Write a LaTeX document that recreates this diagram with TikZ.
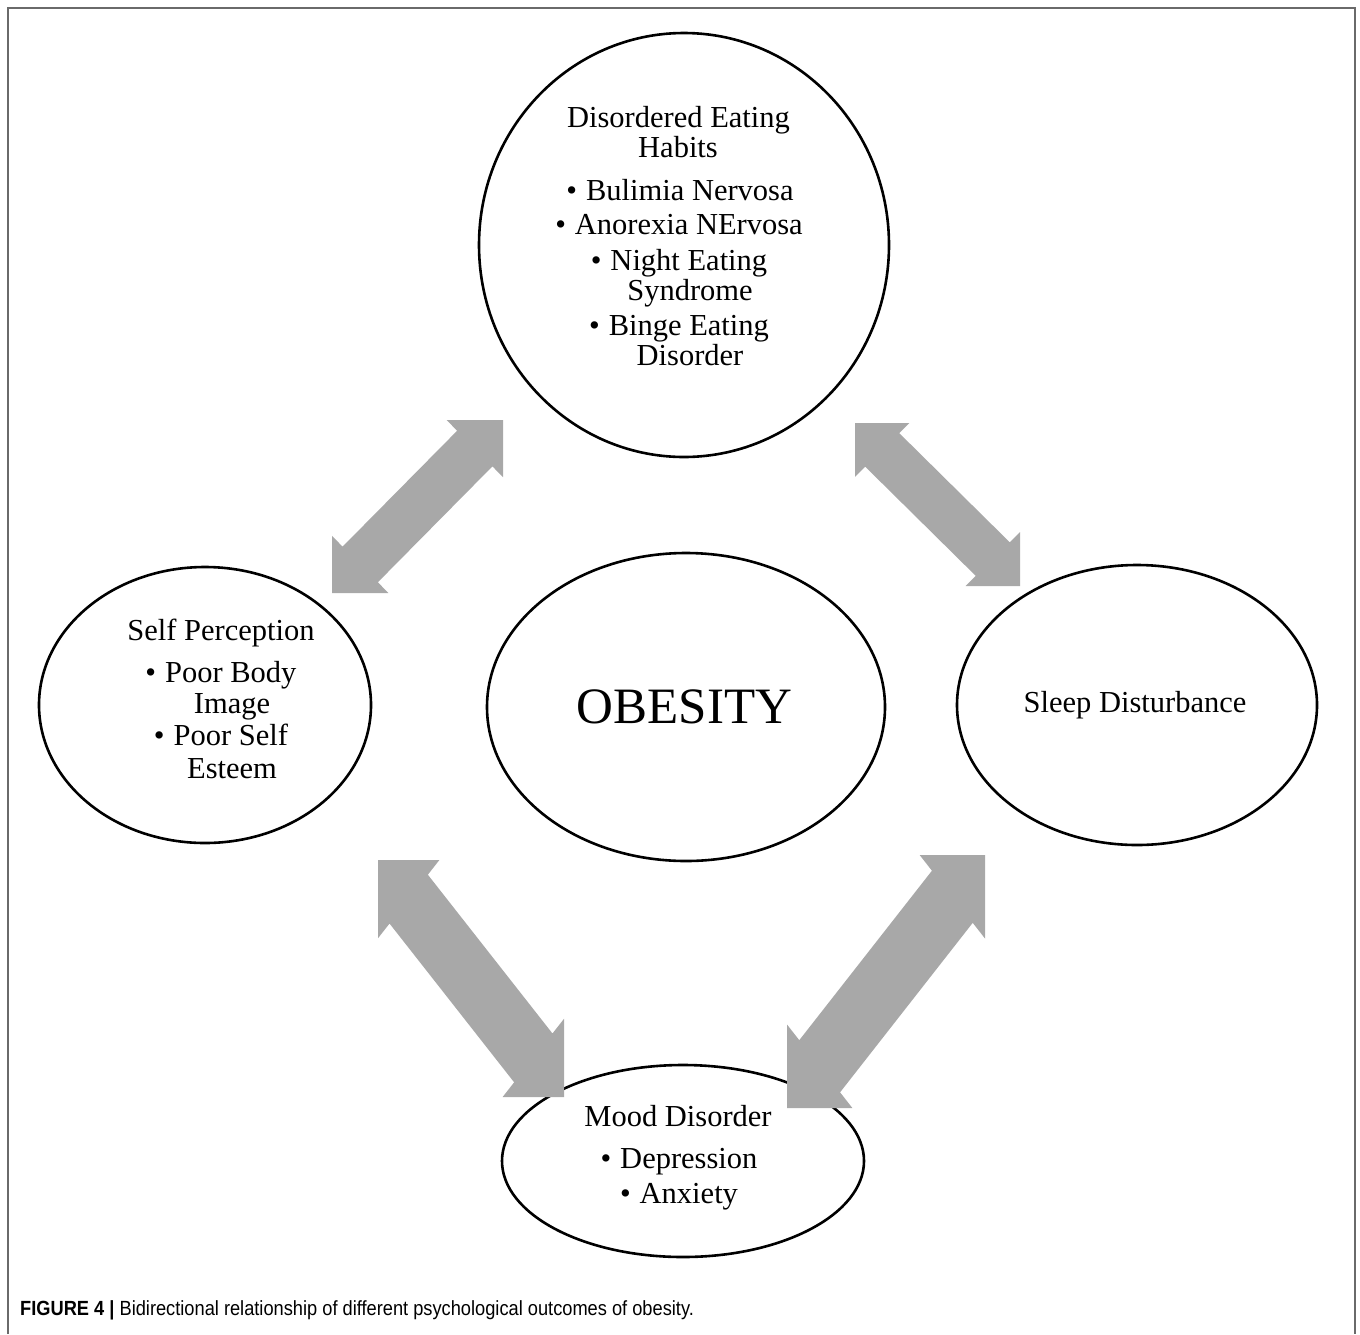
\documentclass[tikz,border=0pt]{standalone}
\usepackage{graphicx}
\usepackage{fontspec}
\setmainfont{Liberation Serif}
\newfontfamily\capfont{Liberation Sans}
\usetikzlibrary{shapes.geometric}
\definecolor{arrgray}{HTML}{A8A8A8}
\definecolor{framegray}{HTML}{6A6A6A}
\tikzset{
  ell/.style={draw, line width=2.6pt, ellipse, inner sep=0pt},
  body/.style={font=\fontsize{30.5}{33}\selectfont, inner sep=0pt, anchor=base},
  big/.style={font=\fontsize{51}{55}\selectfont, inner sep=0pt, anchor=base},
  blk/.style={fill=arrgray},
}
\newcommand\bul{\textbullet\hspace{9pt}}
% NE double arrow in box (x0,y0)-(x1,y1), y down
\newcommand\arrNE[4]{%
  \begin{scope}[shift={(#1,#2)}, xscale=#3-#1, yscale=#4-#2]
    \fill[blk] (1,0) -- (1,0.33) -- (0.938,0.268) -- (0.268,0.938) -- (0.33,1) -- (0,1)
      -- (0,0.67) -- (0.062,0.732) -- (0.732,0.062) -- (0.67,0) -- cycle;
  \end{scope}}
\newcommand\arrNW[4]{%
  \begin{scope}[shift={(#1,#2)}, xscale=#3-#1, yscale=#4-#2]
    \fill[blk] (0,0) -- (0,0.33) -- (0.062,0.268) -- (0.732,0.938) -- (0.67,1) -- (1,1)
      -- (1,0.67) -- (0.938,0.732) -- (0.268,0.062) -- (0.33,0) -- cycle;
  \end{scope}}
\begin{document}
\begin{tikzpicture}[x=1pt, y=-1pt]
\useasboundingbox (0,0) rectangle (1360,1334);
\fill[white] (0,0) rectangle (1360,1334);
\draw[framegray, line width=2pt] (7.5,1334) -- (7.5,8) -- (1355,8) -- (1355,1334);

% ellipses
\node[ell, minimum width=410pt, minimum height=424pt] (deh) at (684,245) {};
\node[ell, minimum width=332pt, minimum height=276pt] (sp) at (205,705) {};
\node[ell, minimum width=398pt, minimum height=308pt] (ob) at (686,707) {};
\node[ell, minimum width=360pt, minimum height=280pt] (sd) at (1137,705) {};
\node[ell, minimum width=362pt, minimum height=192pt] (md) at (683,1161) {};

% texts
\node[body] (deh1) at (678.5,127) {Disordered Eating};
\node[body] (deh2) at (678,157) {Habits};
\node[body] (deh3) at (680,200) {\bul Bulimia Nervosa};
\node[body] (deh4) at (679,234) {\bul Anorexia NErvosa};
\node[body] (deh5) at (679,270) {\bul Night Eating};
\node[body] (deh6) at (690,300) {Syndrome};
\node[body] (deh7) at (679,335) {\bul Binge Eating};
\node[body] (deh8) at (690,365) {Disorder};

\node[body] (sp1) at (221,640) {Self Perception};
\node[body] (sp2) at (221,682) {\bul Poor Body};
\node[body] (sp3) at (232,713) {Image};
\node[body] (sp4) at (221,745) {\bul Poor Self};
\node[body] (sp5) at (232,778) {Esteem};

\node[big] (ob1) at (684.5,723) {OBESITY};

\node[body] (sd1) at (1135,712) {Sleep Disturbance};

\node[body] (md1) at (678,1126) {Mood Disorder};
\node[body] (md2) at (679,1168) {\bul Depression};
\node[body] (md3) at (679,1203) {\bul Anxiety};

% block double arrows
\arrNE{332}{420}{503}{593}
\arrNW{855}{423}{1020}{586}
\arrNW{378}{860}{564}{1097}
\arrNE{787}{855}{985}{1108}

% caption
\node[anchor=base west, inner sep=0pt, font=\capfont\fontsize{20.5}{24}\selectfont] (cap) at (20,1315)
  {\scalebox{0.89}[1]{\textbf{FIGURE 4 |} Bidirectional relationship of different psychological outcomes of obesity.}};
\end{tikzpicture}
\end{document}
